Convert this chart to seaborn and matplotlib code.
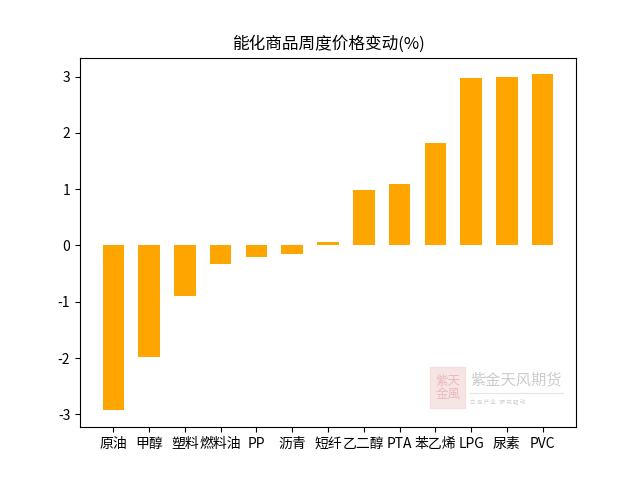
import matplotlib
matplotlib.use("Agg")
import matplotlib.pyplot as plt
import matplotlib.patches as mpatches
import pandas as pd
import seaborn as sns

plt.rcParams['font.family'] = ['Noto Sans CJK SC', 'DejaVu Sans']
plt.rcParams['axes.unicode_minus'] = False

# Weekly price change (%) of energy & chemical futures
products = ['原油', '甲醇', '塑料', '燃料油', 'PP', '沥青', '短纤',
            '乙二醇', 'PTA', '苯乙烯', 'LPG', '尿素', 'PVC']
changes = [-2.93, -1.98, -0.89, -0.33, -0.20, -0.15, 0.07,
           0.98, 1.10, 1.83, 2.97, 3.00, 3.04]

df = pd.DataFrame({'product': products, 'change': changes})

fig, ax = plt.subplots(figsize=(6.4, 4.8), dpi=100)
sns.barplot(data=df, x='product', y='change', color='orange', saturation=1,
            width=0.6, ax=ax)
ax.set_xlim(-0.93, len(products) - 1 + 0.93)
ax.set_ylim(-3.23, 3.34)
ax.set_xlabel('')
ax.set_ylabel('')
ax.set_title('能化商品周度价格变动(%)')

# faint company watermark
fig.patches.append(mpatches.Rectangle((0.672, 0.15), 0.055, 0.085, transform=fig.transFigure,
                                      color='#f0cccc', alpha=0.5, zorder=0))
fig.text(0.7, 0.192, '紫天\n金風', fontsize=9, color='#e0a8a8', alpha=0.7,
         ha='center', va='center', linespacing=1.0)
fig.text(0.735, 0.208, '紫金天风期货', fontsize=11, color='#cccccc', ha='left', va='center')
fig.lines.append(plt.Line2D([0.735, 0.88], [0.182, 0.182], transform=fig.transFigure,
                            color='#e6e6e6', lw=0.8))
fig.text(0.735, 0.163, '立 足 产 业   研 究 驱 动', fontsize=4, color='#d0d0d0', ha='left', va='center')

fig.savefig('out.png', dpi=100)
